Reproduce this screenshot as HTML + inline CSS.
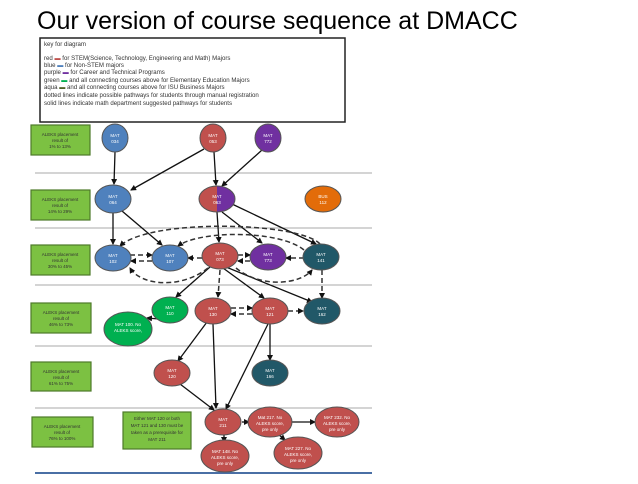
<!DOCTYPE html>
<html><head><meta charset="utf-8"><style>
body{margin:0;background:#fff;width:638px;height:479px;overflow:hidden;font-family:"Liberation Sans",sans-serif}
</style></head><body>
<svg width="638" height="479" viewBox="0 0 638 479" xmlns="http://www.w3.org/2000/svg" font-family="Liberation Sans, sans-serif">
<defs>
<marker id="a" markerWidth="6" markerHeight="6" refX="5" refY="3" orient="auto" markerUnits="userSpaceOnUse"><path d="M0,0 L6,3 L0,6z" fill="#111"/></marker>
<linearGradient id="rp" x1="0" x2="1"><stop offset="0.5" stop-color="#c0504d"/><stop offset="0.5" stop-color="#7030a0"/></linearGradient>
</defs>
<text x="37" y="29" font-size="25" fill="#000">Our version of course sequence at DMACC</text>
<rect x="40" y="38" width="305" height="84" fill="#fff" stroke="#222" stroke-width="1.5"/>
<g font-size="6.1" fill="#333">
<text x="44" y="46">key for diagram</text>
<text x="44" y="60">red <tspan fill="#c0504d">▬</tspan> for STEM(Science, Technology, Engineering and Math) Majors</text>
<text x="44" y="67">blue <tspan fill="#4f81bd">▬</tspan> for Non-STEM majors</text>
<text x="44" y="74">purple <tspan fill="#7030a0">▬</tspan> for Career and Technical Programs</text>
<text x="44" y="82">green <tspan fill="#00b050">▬</tspan> and all connecting courses above for Elementary Education Majors</text>
<text x="44" y="89">aqua <tspan fill="#4f6228">▬</tspan> and all connecting courses above for ISU Business Majors</text>
<text x="44" y="97">dotted lines indicate possible pathways for students through manual registration</text>
<text x="44" y="105">solid lines indicate math department suggested pathways for students</text>
</g>
<g stroke="#aaa" stroke-width="1">
<line x1="35" y1="173" x2="372" y2="173"/><line x1="35" y1="228" x2="372" y2="228"/>
<line x1="35" y1="285" x2="372" y2="285"/><line x1="35" y1="346" x2="372" y2="346"/>
<line x1="35" y1="408" x2="372" y2="408"/>
</g>
<line x1="35" y1="473" x2="372" y2="473" stroke="#4a6fa5" stroke-width="2"/>
<g fill="#7cc142" stroke="#4e7a2a" stroke-width="1.2" >
<rect x="31" y="125" width="59" height="30"/><rect x="31" y="190" width="59" height="30"/>
<rect x="31" y="245" width="59" height="30"/><rect x="31" y="303" width="60" height="30"/>
<rect x="31" y="362" width="60" height="29"/><rect x="32" y="417" width="61" height="30"/>
<rect x="123" y="412" width="68" height="37"/>
</g>
<g font-size="4.5" fill="#333" text-anchor="middle">
<text x="60" y="136">ALEKS placement</text><text x="60" y="142">result of</text><text x="60" y="148">1% to 13%</text>
<text x="60" y="201">ALEKS placement</text><text x="60" y="207">result of</text><text x="60" y="213">14% to 29%</text>
<text x="60" y="256">ALEKS placement</text><text x="60" y="262">result of</text><text x="60" y="268">30% to 45%</text>
<text x="61" y="314">ALEKS placement</text><text x="61" y="320">result of</text><text x="61" y="326">46% to 73%</text>
<text x="61" y="373">ALEKS placement</text><text x="61" y="379">result of</text><text x="61" y="385">61% to 75%</text>
<text x="62" y="428">ALEKS placement</text><text x="62" y="434">result of</text><text x="62" y="440">76% to 100%</text>
<text x="157" y="420">Either MAT 120 or both</text><text x="157" y="427">MAT 121 and 130 must be</text><text x="157" y="434">taken as a prerequisite for</text><text x="157" y="441">MAT 211</text>
</g>
<g stroke="#111" stroke-width="1.3" fill="none" marker-end="url(#a)">
<line x1="115" y1="152" x2="114" y2="184"/>
<line x1="204" y1="149" x2="131" y2="190"/>
<line x1="214" y1="152" x2="216" y2="185"/>
<line x1="262" y1="150" x2="222" y2="186"/>
<line x1="113" y1="213" x2="113" y2="244"/>
<line x1="122" y1="211" x2="162" y2="245"/>
<line x1="217" y1="212" x2="219" y2="242"/>
<line x1="222" y1="212" x2="262" y2="243"/>
<line x1="232" y1="204" x2="316" y2="244"/>
<line x1="210" y1="267" x2="176" y2="297"/>
<line x1="223" y1="268" x2="264" y2="298"/>
<line x1="226" y1="267" x2="312" y2="302"/>
<line x1="159" y1="319" x2="147" y2="318"/>
<line x1="207" y1="322" x2="178" y2="361"/>
<line x1="213" y1="324" x2="216" y2="408"/>
<line x1="268" y1="324" x2="226" y2="409"/>
<line x1="270" y1="324" x2="270" y2="360"/>
<line x1="180" y1="384" x2="214" y2="410"/>
<line x1="242" y1="422" x2="249" y2="422"/>
<line x1="291" y1="422" x2="315" y2="422"/>
<line x1="224" y1="435" x2="224" y2="442"/>
<line x1="278" y1="434" x2="285" y2="440"/>
</g>
<g stroke="#333" stroke-width="1.5" fill="none" stroke-dasharray="5,3" marker-end="url(#a)">
<line x1="130" y1="255" x2="152" y2="255"/><line x1="152" y1="261" x2="131" y2="261"/>
<line x1="202" y1="258" x2="188" y2="258"/><line x1="238" y1="255" x2="250" y2="255"/>
<line x1="250" y1="261" x2="238" y2="261"/><line x1="304" y1="258" x2="286" y2="258"/>
<path d="M320,244 C300,222 150,218 120,246"/>
<path d="M304,250 C280,230 200,230 178,246"/>
<path d="M208,268 C180,290 140,285 130,268"/>
<path d="M236,268 C260,288 300,285 312,270"/>
<line x1="220" y1="270" x2="218" y2="297"/>
<line x1="322" y1="270" x2="322" y2="298"/>
<line x1="231" y1="308" x2="252" y2="308"/><line x1="252" y1="314" x2="231" y2="314"/>
<line x1="288" y1="311" x2="303" y2="311"/>
</g>
<g stroke="#555" stroke-width="1">
<ellipse cx="115" cy="138" rx="13" ry="14" fill="#4f81bd"/>
<ellipse cx="213" cy="138" rx="13" ry="14" fill="#c0504d"/>
<ellipse cx="268" cy="138" rx="13" ry="14" fill="#7030a0"/>
<ellipse cx="113" cy="199" rx="18" ry="14" fill="#4f81bd"/>
<ellipse cx="217" cy="199" rx="18" ry="13" fill="url(#rp)"/>
<ellipse cx="323" cy="199" rx="18" ry="13" fill="#e36c09"/>
<ellipse cx="113" cy="258" rx="18" ry="13" fill="#4f81bd"/>
<ellipse cx="170" cy="258" rx="18" ry="13" fill="#4f81bd"/>
<ellipse cx="220" cy="256" rx="18" ry="13" fill="#c0504d"/>
<ellipse cx="268" cy="257" rx="18" ry="13" fill="#7030a0"/>
<ellipse cx="321" cy="257" rx="18" ry="13" fill="#215868"/>
<ellipse cx="170" cy="310" rx="18" ry="13" fill="#00b050"/>
<ellipse cx="128" cy="329" rx="24" ry="17" fill="#00b050"/>
<ellipse cx="213" cy="311" rx="18" ry="13" fill="#c0504d"/>
<ellipse cx="270" cy="311" rx="18" ry="13" fill="#c0504d"/>
<ellipse cx="322" cy="311" rx="18" ry="13" fill="#215868"/>
<ellipse cx="172" cy="373" rx="18" ry="13" fill="#c0504d"/>
<ellipse cx="270" cy="373" rx="18" ry="13" fill="#215868"/>
<ellipse cx="223" cy="422" rx="18" ry="13" fill="#c0504d"/>
<ellipse cx="270" cy="422" rx="22" ry="15" fill="#c0504d"/>
<ellipse cx="337" cy="422" rx="22" ry="15" fill="#c0504d"/>
<ellipse cx="225" cy="456" rx="24" ry="16" fill="#c0504d"/>
<ellipse cx="298" cy="453" rx="24" ry="16" fill="#c0504d"/>
</g>
<g font-size="4.5" fill="#fff" text-anchor="middle">
<text x="115" y="137">MAT</text><text x="115" y="143">034</text>
<text x="213" y="137">MAT</text><text x="213" y="143">053</text>
<text x="268" y="137">MAT</text><text x="268" y="143">772</text>
<text x="113" y="198">MAT</text><text x="113" y="204">064</text>
<text x="217" y="198">MAT</text><text x="217" y="204">063</text>
<text x="323" y="198">BUS</text><text x="323" y="204">112</text>
<text x="113" y="257">MAT</text><text x="113" y="263">102</text>
<text x="170" y="257">MAT</text><text x="170" y="263">107</text>
<text x="220" y="255">MAT</text><text x="220" y="261">073</text>
<text x="268" y="256">MAT</text><text x="268" y="262">773</text>
<text x="321" y="256">MAT</text><text x="321" y="262">141</text>
<text x="170" y="309">MAT</text><text x="170" y="315">110</text>
<text x="128" y="326">MAT 100. No</text><text x="128" y="332">ALEKS score,</text>
<text x="213" y="310">MAT</text><text x="213" y="316">130</text>
<text x="270" y="310">MAT</text><text x="270" y="316">121</text>
<text x="322" y="310">MAT</text><text x="322" y="316">162</text>
<text x="172" y="372">MAT</text><text x="172" y="378">120</text>
<text x="270" y="372">MAT</text><text x="270" y="378">166</text>
<text x="223" y="421">MAT</text><text x="223" y="427">211</text>
<text x="270" y="419">Mat 217. No</text><text x="270" y="425">ALEKS score,</text><text x="270" y="431">pre only</text>
<text x="337" y="419">MAT 232. No</text><text x="337" y="425">ALEKS score,</text><text x="337" y="431">pre only</text>
<text x="225" y="453">MAT 148. No</text><text x="225" y="459">ALEKS score,</text><text x="225" y="465">pre only</text>
<text x="298" y="450">MAT 227. No</text><text x="298" y="456">ALEKS score,</text><text x="298" y="462">pre only</text>
</g>
</svg>
</body></html>
